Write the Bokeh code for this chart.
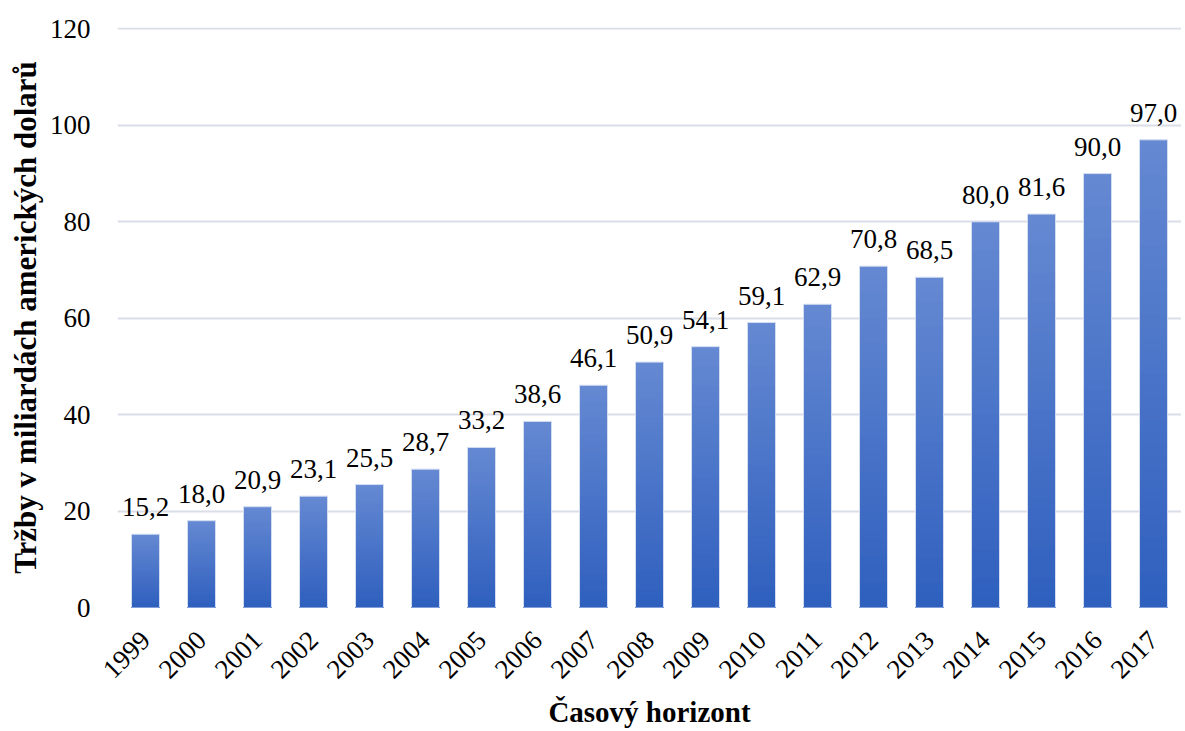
import numpy as np
from bokeh.plotting import figure
from bokeh.models import ColumnDataSource, LabelSet, FactorRange, Range1d
from bokeh.embed import file_html
from bokeh.resources import INLINE
from math import pi

years = ["1999", "2000", "2001", "2002", "2003", "2004", "2005", "2006", "2007", "2008",
         "2009", "2010", "2011", "2012", "2013", "2014", "2015", "2016", "2017"]
sales = [15.2, 18.0, 20.9, 23.1, 25.5, 28.7, 33.2, 38.6, 46.1, 50.9,
         54.1, 59.1, 62.9, 70.8, 68.5, 80.0, 81.6, 90.0, 97.0]
labels = [f"{v:.1f}".replace(".", ",") for v in sales]
y_ticks = [0, 20, 40, 60, 80, 100, 120]

FONT = "Liberation Serif"

p = figure(x_range=FactorRange(*years), y_range=Range1d(0, 120.3),
           frame_width=1064, frame_height=580,
           output_backend="svg", toolbar_location=None,
           min_border_left=117, min_border_right=0, min_border_top=27, min_border_bottom=0)

# gradient bars: overlapping layers, light at top, darker towards the bottom
bottom_rgb = np.array([0x2F, 0x5F, 0xBE])
top_rgb = np.array([0x65, 0x89, 0xD2])
N = 40
vals = np.array(sales)
for k in range(N):
    frac = (N - k) / N
    t = (N - k - 0.5) / N
    c = bottom_rgb + (top_rgb - bottom_rgb) * t
    col = "#%02x%02x%02x" % tuple(int(round(x)) for x in c)
    p.vbar(x=years, bottom=0, top=vals * frac, width=0.5,
           fill_color=col, line_color=None)
# faint light outline around each bar
p.vbar(x=years, bottom=0, top=vals, width=0.5, fill_color=None,
       line_color="#D3DDF2", line_width=1)

src = ColumnDataSource(dict(x=years, y=sales, t=labels))
p.add_layout(LabelSet(x="x", y="y", text="t", source=src, text_align="center",
                      text_baseline="alphabetic", y_offset=18,
                      text_font=FONT, text_font_size="27px", text_color="#000000"))

p.yaxis.ticker = y_ticks
p.ygrid.ticker = y_ticks
p.ygrid.grid_line_color = "#D9DEE7"
p.ygrid.grid_line_width = 2
p.xgrid.grid_line_color = None
p.outline_line_color = None

for ax in (p.xaxis, p.yaxis):
    ax.axis_line_color = None
    ax.major_tick_line_color = None
    ax.minor_tick_line_color = None
    ax.major_tick_out = 0
    ax.major_tick_in = 0
    ax.major_label_text_font = FONT
    ax.major_label_text_font_size = "27px"
    ax.major_label_text_color = "#000000"
    ax.axis_label_text_font = FONT
    ax.axis_label_text_font_style = "bold"
    ax.axis_label_text_color = "#000000"

p.yaxis.axis_label = "Tržby v miliardách amerických dolarů"
p.yaxis.axis_label_text_font_size = "31px"
p.yaxis.major_label_standoff = 27
p.yaxis.axis_label_standoff = 4
p.xaxis.axis_label = "Časový horizont"
p.xaxis.axis_label_text_font_size = "29px"
p.xaxis.major_label_orientation = pi / 4
p.xaxis.major_label_standoff = 28
p.xaxis.axis_label_standoff = 7

open("out.html", "w").write(file_html(p, INLINE))
